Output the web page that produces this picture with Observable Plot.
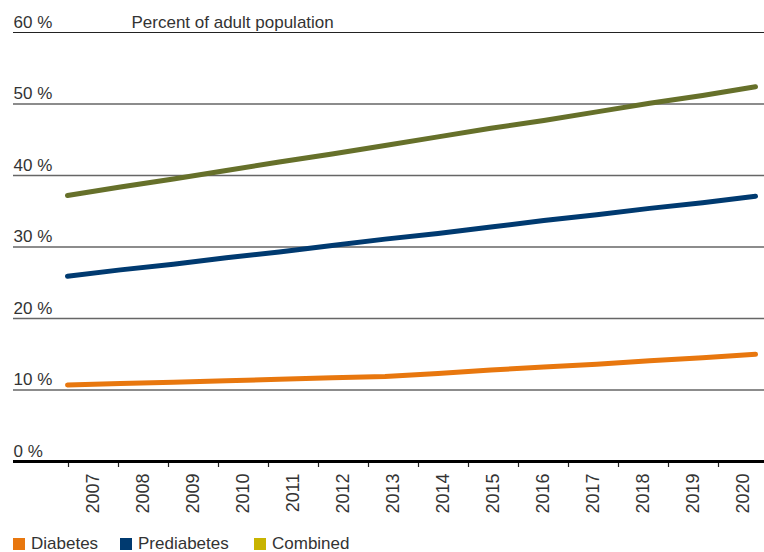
<!DOCTYPE html>
<html>
<head>
<meta charset="utf-8">
<script src="https://cdn.jsdelivr.net/npm/d3@7"></script>
<script src="https://cdn.jsdelivr.net/npm/@observablehq/plot@0.6"></script>
<style>
  html, body { margin: 0; padding: 0; background: #fff; }
  #wrap { position: relative; width: 764px; height: 552px; font-family: "Liberation Sans", Arial, sans-serif; color: #333; }
  #wrap svg { position: absolute; left: 0; top: 0; }
  #legend { position: absolute; left: 13px; top: 535px; display: flex; font-size: 17px; line-height: 18px; }
  .item { display: flex; align-items: center; margin-right: 0; }
  .sw { width: 12px; height: 12px; display: inline-block; margin-right: 6px; }
</style>
</head>
<body>
<div id="wrap"><div id="legend"></div></div>
<script>
const years = [2007, 2008, 2009, 2010, 2011, 2012, 2013, 2014, 2015, 2016, 2017, 2018, 2019, 2020];
const diabetes = [10.7, 10.9, 11.1, 11.3, 11.5, 11.7, 11.9, 12.3, 12.8, 13.2, 13.6, 14.1, 14.5, 15.0];
const prediabetes = [25.9, 26.8, 27.6, 28.5, 29.3, 30.2, 31.1, 31.9, 32.8, 33.7, 34.5, 35.4, 36.2, 37.1];
const combined = [37.2, 38.4, 39.5, 40.7, 41.9, 43.0, 44.2, 45.4, 46.6, 47.7, 48.9, 50.1, 51.2, 52.4];
const yTicks = [0, 10, 20, 30, 40, 50, 60];
const seriesNames = ["Diabetes", "Prediabetes", "Combined"];
const lineColors = ["#e8770e", "#003a70", "#66702a"];
const legendColors = ["#e8770e", "#003a70", "#c8b400"];
const yTitle = "Percent of adult population";

const boundaries = years.map(y => y - 0.5);
const rows = [];
[diabetes, prediabetes, combined].forEach((vals, i) => {
  vals.forEach((v, j) => rows.push({series: seriesNames[i], year: years[j], value: v}));
});

const W = 764, H = 525;
const common = {
  width: W, height: H,
  marginLeft: 13, marginRight: 0, marginTop: 32, marginBottom: 64,
  style: {fontFamily: '"Liberation Sans", Arial, sans-serif', fontSize: "17px", color: "#333", background: "transparent", overflow: "visible"}
};

const base = Plot.plot({
  ...common,
  x: {type: "linear", domain: [2006.5, 2020.5], range: [68, 768], axis: null},
  y: {domain: [0, 60], axis: null},
  marks: [
    Plot.ruleY(yTicks.filter(d => d > 0 && d < 60), {stroke: "#666", strokeWidth: 1.3}),
    Plot.ruleY([60], {stroke: "#222", strokeWidth: 1.2}),
    Plot.text(yTicks, {y: d => d, text: d => `${d} %`, frameAnchor: "left", textAnchor: "start", lineAnchor: "bottom", dy: -5, fill: "#333", fontSize: 17}),
    Plot.text([60], {y: d => d, text: () => yTitle, frameAnchor: "left", textAnchor: "start", lineAnchor: "bottom", dx: 118, dy: -5, fill: "#333", fontSize: 17}),
    Plot.axisX({ticks: boundaries, tickFormat: () => "", tickSize: 6, stroke: "#222", strokeWidth: 1.2}),
    Plot.axisX({ticks: years, tickFormat: d => String(d), tickSize: 0, tickPadding: 12, tickRotate: -90, fill: "#333", fontSize: 18}),
    Plot.ruleY([0], {stroke: "#000", strokeWidth: 3})
  ]
});

const lines = Plot.plot({
  ...common,
  x: {type: "linear", domain: [2007, 2020], range: [67, 755], axis: null},
  y: {domain: [0, 60], axis: null},
  color: {domain: seriesNames, range: lineColors},
  marks: [
    Plot.line(rows, {x: "year", y: "value", z: "series", stroke: "series", strokeWidth: 5, strokeLinecap: "round", strokeLinejoin: "round"})
  ]
});

const wrap = document.getElementById("wrap");
wrap.insertBefore(base, wrap.firstChild);
wrap.insertBefore(lines, base.nextSibling);

const legend = document.getElementById("legend");
const gaps = [107, 134, 0];
seriesNames.forEach((n, i) => {
  const it = document.createElement("div");
  it.className = "item";
  it.style.width = gaps[i] ? gaps[i] + "px" : "auto";
  it.innerHTML = `<span class="sw" style="background:${legendColors[i]}"></span><span>${n}</span>`;
  legend.appendChild(it);
});
</script>
</body>
</html>
